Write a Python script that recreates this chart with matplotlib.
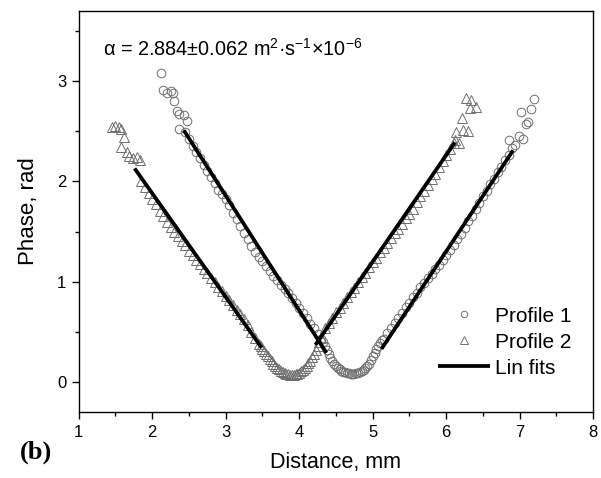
import matplotlib
matplotlib.use("Agg")
import matplotlib.pyplot as plt
from matplotlib.ticker import MultipleLocator

plt.rcParams['font.family'] = ['Liberation Sans', 'DejaVu Sans']
plt.rcParams['mathtext.fontset'] = 'custom'
plt.rcParams['mathtext.rm'] = 'Liberation Sans'
plt.rcParams['mathtext.it'] = 'Liberation Sans:italic'

# ---- data ----
p1_x = [2.12, 2.15, 2.20, 2.25, 2.28, 2.30, 2.34, 2.37, 2.43, 2.47, 2.37,
        2.45, 2.50, 2.55, 2.60, 2.65, 2.70, 2.75, 2.80, 2.85, 2.90, 2.95, 3.00,
        3.05, 3.10, 3.15, 3.20, 3.25, 3.30, 3.35, 3.40, 3.45, 3.50, 3.55, 3.60,
        3.65, 3.70, 3.75, 3.80, 3.85, 3.90, 3.95, 4.00, 4.05, 4.10, 4.15, 4.20,
        4.25, 4.30,
        4.325, 4.35, 4.375, 4.40, 4.425, 4.45, 4.475, 4.50, 4.525, 4.55, 4.575,
        4.60, 4.625, 4.65, 4.675, 4.70, 4.725, 4.75, 4.775, 4.80, 4.825, 4.85,
        4.875, 4.90, 4.925, 4.95, 4.975, 5.00, 5.025, 5.05, 5.075, 5.10, 5.125,
        5.15, 5.20, 5.25, 5.30, 5.35, 5.40, 5.45, 5.50, 5.55, 5.60, 5.65, 5.70,
        5.75, 5.80, 5.85, 5.90, 5.95, 6.00, 6.05, 6.10, 6.15, 6.20, 6.25, 6.30,
        6.35, 6.40, 6.45, 6.50, 6.55, 6.60, 6.65, 6.70, 6.75, 6.80, 6.85, 6.90,
        6.86, 6.93, 6.99, 7.05, 7.08, 7.11, 7.02, 7.16, 7.20]
p1_y = [3.08, 2.91, 2.88, 2.90, 2.88, 2.80, 2.70, 2.67, 2.66, 2.60, 2.52,
        2.49, 2.42, 2.35, 2.29, 2.23, 2.16, 2.10, 2.04, 1.98, 1.91, 1.87, 1.82,
        1.76, 1.69, 1.63, 1.56, 1.49, 1.43, 1.36, 1.30, 1.25, 1.21, 1.16, 1.11,
        1.06, 1.02, 0.97, 0.93, 0.89, 0.84, 0.79, 0.74, 0.69, 0.64, 0.58, 0.54,
        0.48, 0.43,
        0.40, 0.36, 0.32, 0.28, 0.24, 0.21, 0.18, 0.16, 0.14, 0.125, 0.11,
        0.10, 0.095, 0.09, 0.085, 0.08, 0.08, 0.08, 0.085, 0.09, 0.10, 0.11,
        0.12, 0.135, 0.155, 0.18, 0.215, 0.255, 0.29, 0.33, 0.36, 0.39, 0.42,
        0.43, 0.49, 0.54, 0.59, 0.64, 0.69, 0.75, 0.79, 0.85, 0.89, 0.95, 0.99,
        1.04, 1.08, 1.13, 1.17, 1.22, 1.27, 1.32, 1.37, 1.43, 1.48, 1.54, 1.61,
        1.66, 1.73, 1.78, 1.85, 1.90, 1.97, 2.02, 2.09, 2.14, 2.21, 2.26, 2.33,
        2.41, 2.36, 2.45, 2.42, 2.57, 2.59, 2.69, 2.72, 2.82]

p2_x = [1.45, 1.49, 1.55, 1.58, 1.62, 1.58, 1.65, 1.69, 1.74, 1.79, 1.83,
        1.85, 1.90, 1.95, 2.00, 2.05, 2.10, 2.15, 2.20, 2.25, 2.30, 2.35, 2.40,
        2.45, 2.50, 2.55, 2.60, 2.65, 2.70, 2.75, 2.80, 2.85, 2.90, 2.95, 3.00,
        3.05, 3.10, 3.15, 3.20, 3.25, 3.30, 3.35, 3.40, 3.45,
        3.475, 3.50, 3.525, 3.55, 3.575, 3.60, 3.625, 3.65, 3.675, 3.70, 3.725,
        3.75, 3.775, 3.80, 3.825, 3.85, 3.875, 3.90, 3.925, 3.95, 3.975, 4.00,
        4.025, 4.05, 4.075, 4.10, 4.125, 4.15, 4.175, 4.20, 4.225, 4.25, 4.275,
        4.30,
        4.35, 4.40, 4.45, 4.50, 4.55, 4.60, 4.65, 4.70, 4.75, 4.80, 4.85, 4.90,
        4.95, 5.00, 5.05, 5.10, 5.15, 5.20, 5.25, 5.30, 5.35, 5.40, 5.45, 5.50,
        5.55, 5.60, 5.65, 5.70, 5.75, 5.80, 5.85, 5.90, 5.95, 6.00, 6.05, 6.10,
        6.12, 6.17, 6.14, 6.23, 6.30, 6.21, 6.32, 6.41, 6.27, 6.34]
p2_y = [2.54, 2.55, 2.54, 2.52, 2.44, 2.34, 2.29, 2.25, 2.23, 2.24, 2.21,
        2.00, 1.94, 1.88, 1.82, 1.77, 1.71, 1.66, 1.60, 1.55, 1.50, 1.46, 1.41,
        1.37, 1.31, 1.27, 1.22, 1.18, 1.13, 1.09, 1.04, 1.00, 0.95, 0.91, 0.86,
        0.82, 0.77, 0.72, 0.68, 0.63, 0.57, 0.50, 0.44, 0.38,
        0.355, 0.33, 0.305, 0.28, 0.255, 0.23, 0.205, 0.18, 0.16, 0.14, 0.125,
        0.11, 0.10, 0.09, 0.08, 0.075, 0.07, 0.07, 0.07, 0.075, 0.08, 0.09,
        0.105, 0.12, 0.14, 0.16, 0.185, 0.21, 0.245, 0.28, 0.32, 0.36, 0.40,
        0.44,
        0.54, 0.59, 0.64, 0.70, 0.74, 0.79, 0.85, 0.90, 0.94, 1.00, 1.05, 1.09,
        1.15, 1.20, 1.24, 1.30, 1.34, 1.39, 1.44, 1.49, 1.53, 1.58, 1.64, 1.68,
        1.73, 1.79, 1.85, 1.90, 1.96, 2.02, 2.07, 2.14, 2.20, 2.26, 2.32, 2.38,
        2.41, 2.38, 2.49, 2.51, 2.50, 2.63, 2.73, 2.74, 2.83, 2.81]

# linear fit segments (start, end)
fit_x = [[1.76, 3.49], [2.43, 4.37], [4.22, 6.12], [5.12, 6.91]]
fit_y = [[2.13, 0.34], [2.51, 0.29], [0.37, 2.39], [0.33, 2.31]]

series_labels = ["Profile 1", "Profile 2", "Lin fits"]
annotation = "α = 2.884±0.062 m$^{2}$·s$^{-1}$×10$^{-6}$"

fig = plt.figure(figsize=(6.01, 4.78), dpi=100)
ax = fig.add_axes([0.131, 0.138, 0.856, 0.839])

mcol = '#6e6e6e'
ax.plot(p1_x, p1_y, linestyle='none', marker='o', markersize=6.2,
        markerfacecolor='none', markeredgecolor=mcol, markeredgewidth=0.7,
        label=series_labels[0], zorder=2)
ax.plot(p2_x, p2_y, linestyle='none', marker='^', markersize=7.0,
        markerfacecolor='none', markeredgecolor=mcol, markeredgewidth=0.7,
        label=series_labels[1], zorder=2)
for i, (fx, fy) in enumerate(zip(fit_x, fit_y)):
    ax.plot(fx, fy, color='black', linewidth=2.7, solid_capstyle='butt',
            label=series_labels[2] if i == 0 else None, zorder=3)

ax.set_xlim(1, 8)
ax.set_ylim(-0.3, 3.7)
ax.xaxis.set_major_locator(MultipleLocator(1))
ax.xaxis.set_minor_locator(MultipleLocator(0.5))
ax.yaxis.set_major_locator(MultipleLocator(1))
ax.yaxis.set_minor_locator(MultipleLocator(0.5))
ax.tick_params(which='major', direction='out', length=5, width=1,
               labelsize=12, top=False, right=False, pad=4)
ax.tick_params(which='minor', direction='out', length=3, width=1,
               top=False, right=False)
for s in ax.spines.values():
    s.set_linewidth(1.0)

ax.set_xlabel("Distance, mm", fontsize=15.5, labelpad=9)
ax.set_ylabel("Phase, rad", fontsize=16, labelpad=13)

ax.text(0.047, 0.905, annotation, transform=ax.transAxes, fontsize=14.3,
        ha='left', va='center')

leg = ax.legend(loc='upper left', bbox_to_anchor=(0.698, 0.263),
                frameon=False, fontsize=15, handlelength=2.5,
                handletextpad=0.25, labelspacing=0.34, borderpad=0,
                borderaxespad=0, markerscale=0.75)

fig.text(0.033, 0.054, "(b)", fontsize=19, fontweight='bold',
         family='Liberation Serif', ha='left', va='center')

fig.savefig("out.png", dpi=100)
